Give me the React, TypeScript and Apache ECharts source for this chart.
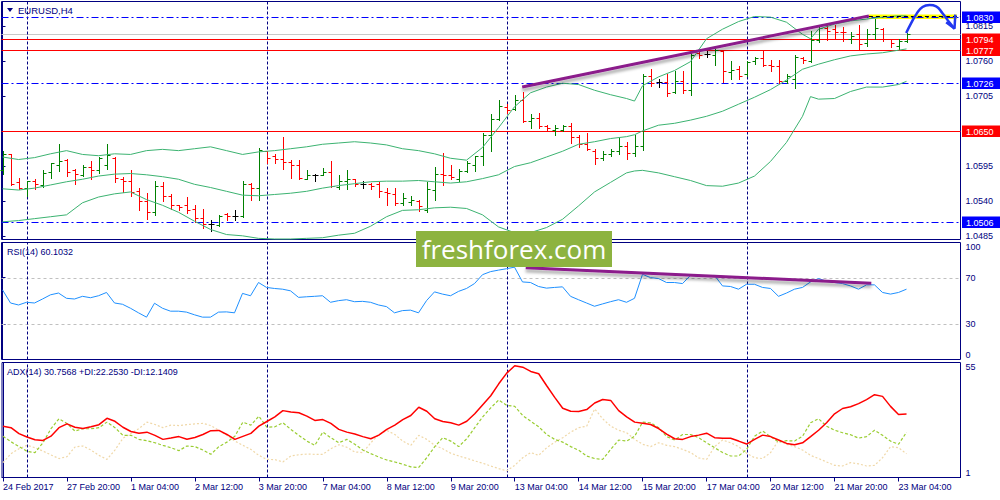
import { useEffect, useRef } from "react";
import * as echarts from "echarts";

// ---------- data (H4 bars, index 0 = 24 Feb 2017 12:00) ----------
const OPEN = [1.0589,1.0613,1.0569,1.0561,1.0572,1.0565,1.0585,1.0597,1.0604,1.0589,
1.0581,1.0594,1.0589,1.0596,1.0608,1.0574,1.0572,1.0555,1.0539,1.0523,
1.0563,1.0548,1.0533,1.0533,1.0527,1.0513,1.0504,1.0502,1.0519,1.0516,
1.0516,1.0567,1.0561,1.0618,1.0611,1.0606,1.0601,1.0596,1.0575,1.0581,
1.0581,1.0585,1.0562,1.0571,1.0574,1.0566,1.0566,1.0566,1.0554,1.0551,
1.0537,1.0538,1.0539,1.0526,1.0557,1.0583,1.0580,1.0574,1.0587,1.0597,
1.0611,1.0644,1.0669,1.0687,1.0685,1.0699,1.0665,1.0671,1.0657,1.0652,
1.0652,1.0657,1.0641,1.0629,1.0618,1.0608,1.0613,1.0618,1.0626,1.0615,
1.0626,1.0737,1.0727,1.0727,1.0712,1.0728,1.0714,1.0772,1.0771,1.0770,
1.0775,1.0742,1.0747,1.0739,1.0760,1.0765,1.0754,1.0752,1.0728,1.0731,
1.0765,1.0760,1.0793,1.0812,1.0810,1.0806,1.0795,1.0803,1.0789,1.0802,
1.0811,1.0794,1.0783,1.0791];
const HIGH = [1.0618,1.0614,1.0576,1.0572,1.0575,1.0588,1.0600,1.0630,1.0606,1.0590,
1.0596,1.0602,1.0609,1.0630,1.0609,1.0577,1.0588,1.0561,1.0553,1.0572,
1.0570,1.0550,1.0534,1.0546,1.0533,1.0527,1.0510,1.0517,1.0521,1.0526,
1.0572,1.0568,1.0623,1.0619,1.0613,1.0640,1.0605,1.0605,1.0589,1.0583,
1.0592,1.0602,1.0580,1.0588,1.0575,1.0572,1.0568,1.0569,1.0561,1.0561,
1.0553,1.0547,1.0542,1.0569,1.0594,1.0616,1.0596,1.0590,1.0602,1.0611,
1.0646,1.0677,1.0699,1.0693,1.0707,1.0712,1.0677,1.0678,1.0660,1.0659,
1.0660,1.0662,1.0643,1.0646,1.0622,1.0618,1.0621,1.0639,1.0632,1.0643,
1.0740,1.0747,1.0732,1.0740,1.0744,1.0744,1.0772,1.0777,1.0775,1.0779,
1.0777,1.0760,1.0752,1.0760,1.0767,1.0777,1.0762,1.0761,1.0739,1.0769,
1.0767,1.0807,1.0816,1.0816,1.0816,1.0814,1.0805,1.0817,1.0810,1.0826,
1.0812,1.0795,1.0795,1.0804];
const LOW = [1.0583,1.0565,1.0558,1.0547,1.0559,1.0562,1.0576,1.0587,1.0579,1.0567,
1.0579,1.0574,1.0584,1.0590,1.0569,1.0554,1.0548,1.0525,1.0512,1.0517,
1.0539,1.0527,1.0526,1.0521,1.0506,1.0498,1.0492,1.0500,1.0510,1.0510,
1.0515,1.0542,1.0541,1.0599,1.0600,1.0590,1.0576,1.0575,1.0574,1.0571,
1.0580,1.0562,1.0558,1.0559,1.0563,1.0561,1.0558,1.0546,1.0534,1.0534,
1.0534,1.0534,1.0524,1.0522,1.0541,1.0565,1.0574,1.0571,1.0585,1.0587,
1.0596,1.0618,1.0667,1.0678,1.0683,1.0664,1.0654,1.0655,1.0651,1.0644,
1.0650,1.0631,1.0625,1.0620,1.0598,1.0604,1.0610,1.0613,1.0606,1.0610,
1.0620,1.0721,1.0719,1.0705,1.0710,1.0710,1.0706,1.0765,1.0767,1.0753,
1.0727,1.0731,1.0732,1.0736,1.0756,1.0752,1.0744,1.0726,1.0725,1.0718,
1.0757,1.0758,1.0790,1.0793,1.0794,1.0791,1.0789,1.0777,1.0783,1.0795,
1.0791,1.0782,1.0779,1.0790];
const CLOSE = [1.0613,1.0566,1.0561,1.0572,1.0566,1.0584,1.0599,1.0603,1.0585,1.0583,
1.0594,1.0589,1.0607,1.0612,1.0576,1.0571,1.0554,1.0539,1.0523,1.0563,
1.0547,1.0534,1.0530,1.0526,1.0513,1.0503,1.0504,1.0516,1.0516,1.0516,
1.0567,1.0561,1.0620,1.0607,1.0606,1.0601,1.0596,1.0576,1.0581,1.0581,
1.0585,1.0563,1.0571,1.0574,1.0566,1.0566,1.0563,1.0555,1.0553,1.0537,
1.0545,1.0542,1.0532,1.0558,1.0583,1.0580,1.0578,1.0587,1.0600,1.0610,
1.0644,1.0669,1.0689,1.0683,1.0699,1.0665,1.0671,1.0657,1.0654,1.0654,
1.0657,1.0641,1.0629,1.0621,1.0608,1.0613,1.0618,1.0626,1.0616,1.0627,
1.0737,1.0725,1.0727,1.0709,1.0728,1.0714,1.0770,1.0770,1.0771,1.0777,
1.0744,1.0746,1.0737,1.0758,1.0765,1.0754,1.0752,1.0728,1.0736,1.0767,
1.0761,1.0793,1.0812,1.0807,1.0805,1.0805,1.0799,1.0786,1.0802,1.0812,
1.0794,1.0788,1.0791,1.0803];

const BB_INDEX = [0,2,4,6,8,10,12,14,16,18,20,22,24,26,28,30,32,34,36,38,40,42,44,46,48,50,52,54,56,58,60,62,64,66,68,70,72,74,76,78,79,80,82,84,86,88,90,92,94,96,98,100,101,102,104,106,108,110,112,113];
const BB_UPPER = [1.0609,1.0605,1.0608,1.0614,1.0619,1.0613,1.0611,1.0614,1.0613,1.0619,1.0621,1.0619,1.0622,1.0625,1.0619,1.0613,1.0617,1.0619,1.0622,1.0625,1.0629,1.0631,1.0633,1.0631,1.0628,1.0622,1.0619,1.0614,1.0607,1.0604,1.0624,1.0655,1.0688,1.0710,1.0719,1.0725,1.0723,1.0714,1.0707,1.0701,1.0697,1.0721,1.0735,1.0745,1.0759,1.0795,1.0810,1.0822,1.0830,1.0829,1.0821,1.0802,1.0795,1.0810,1.0818,1.0823,1.0826,1.0829,1.0831,1.0831];
const BB_MIDDLE = [1.0559,1.0557,1.0560,1.0565,1.0570,1.0574,1.0579,1.0582,1.0583,1.0581,1.0578,1.0574,1.0566,1.0561,1.0555,1.0549,1.0548,1.0550,1.0552,1.0555,1.0560,1.0564,1.0567,1.0570,1.0571,1.0571,1.0572,1.0570,1.0568,1.0570,1.0575,1.0581,1.0594,1.0600,1.0609,1.0618,1.0629,1.0633,1.0638,1.0641,1.0644,1.0650,1.0659,1.0662,1.0667,1.0673,1.0681,1.0692,1.0703,1.0715,1.0730,1.0747,1.0751,1.0755,1.0762,1.0768,1.0771,1.0773,1.0777,1.0779];
const BB_LOWER = [1.0507,1.0509,1.0512,1.0515,1.0518,1.0537,1.0546,1.0551,1.0554,1.0542,1.0533,1.0522,1.0508,1.0495,1.0487,1.0485,1.0481,1.0480,1.0480,1.0481,1.0482,1.0486,1.0489,1.0500,1.0515,1.0525,1.0526,1.0529,1.0530,1.0528,1.0518,1.0499,1.0490,1.0490,1.0498,1.0511,1.0532,1.0554,1.0569,1.0584,1.0587,1.0588,1.0584,1.0578,1.0572,1.0564,1.0563,1.0568,1.0579,1.0602,1.0632,1.0673,1.0704,1.0700,1.0701,1.0712,1.0719,1.0719,1.0723,1.0728];

const RSI = [59.5,48.3,46.6,48.9,48.3,51.7,55.3,56.8,52.3,51.7,
54,52.8,54.5,57.3,48.3,47.2,43.8,39.9,36.2,48.1,
43.8,41.3,41.3,40.5,38.2,36.2,36.2,40.5,40.7,39.9,
56.5,54.5,65.8,61.6,60.7,60.1,58.7,53.1,53.6,54,
54.5,48.9,50.3,51.1,49.4,49.7,48.9,46.6,45.2,39.9,
41.8,42.2,39.9,50.3,57.8,55.9,54.5,58.2,60.7,64.9,
72.5,75.1,76.4,77.6,78.9,66.3,65.8,62.4,61,61.6,
62.1,54,51.1,48.3,45.5,47.5,49.4,51.1,48.9,52.3,
72.8,70,69.2,65.8,65.8,64.9,71.9,71.4,71.4,71.9,
62.9,62.4,60.1,64.3,64.3,61.6,60.7,54,56.8,60.1,
61.6,66.3,69.2,66.9,65.8,64.9,62.9,60.1,63.8,63.8,
57.3,55.9,57.3,60.1];

const ADX = [25.1,24.4,21.6,20,18.7,18.4,20.4,24.4,26.2,24.6,
24,24.8,25.8,28.8,27.4,24.6,22.6,21.8,22.3,20.8,
18.9,19.5,20.2,19,19.8,21.2,23,23.1,21.2,18.9,
20.3,21.7,25.1,27.3,29.5,32.4,31.8,31.4,29.8,27.8,
28.2,26.4,23.6,22.3,21.4,20.2,19.2,20.9,23.6,25.6,
28.2,30.1,34,32.1,28.6,27.3,26.7,25.6,27.4,30.9,
35.2,39.4,45,50,53.5,52.8,50.8,49.7,44.1,38.6,
33.5,32.1,32,32.9,36,37.6,37.2,32.4,29.5,27,
26.5,25.9,24,21.4,19.2,18.9,20.2,20.9,21.8,19.7,
19.4,19.4,18.1,16.7,18.9,20.9,20.2,18.6,17,16.4,
17.3,20.2,23.2,26.7,30.9,33.4,34.2,35.7,37.6,39.9,
39.1,34.4,30.6,30.76];
const PLUS_DI = [20.4,17.8,15.5,13.3,12.7,17.3,23.9,28.6,26.4,22.8,
23.9,23.9,24.4,27,24.4,20.8,20.8,18.9,18.3,17.3,
16.1,15,13.6,15.8,15.5,13.9,11.9,15.5,17.6,20.4,
27,25.6,29.8,24.6,24.8,26.7,23.6,20.8,18.1,16.1,
22.3,19.7,17.3,18.9,16.6,13.9,12.2,10.6,9.2,8.3,
7.2,6,5.7,10.3,15.5,19.7,18.1,15.5,19.2,24.4,
29.5,33.7,37.4,34.9,34.4,30.1,27.4,24.8,21.2,18.9,
17.6,15.5,13.8,11.1,9.9,9.5,14.2,18.6,18.1,20.4,
27,26.7,24.4,20.2,18.6,21.2,21.2,19.7,17.3,15,
12.7,11.1,11.1,14.2,20.4,22.8,20.2,17.6,18.3,18.1,
20.4,26.7,28.6,25.1,23.2,22,21.1,19.5,20.2,23.2,
20.8,18.1,16.6,22.25];
const MINUS_DI = [8,12.2,14.5,16.1,15,13.4,11.6,9.9,10.8,15.3,
15.8,13.9,11.4,9.5,13.9,19.4,21.7,24,27,25.9,
24.4,25.6,25.4,25.8,26.2,26.4,25.4,23.1,20.8,18.1,
16.1,14.2,11.4,9.5,9.4,8.3,11.1,11.7,12,11.9,
11.9,14.5,16.4,15.2,13,12.7,17.3,21.2,23.1,21.2,
18.1,16.1,20.8,18.9,16.1,14.5,12.4,11.1,10,8.8,
7.7,6.4,5.2,4.1,6.7,10.3,12.7,11.4,15,17.6,
19.7,22.3,24.4,25.1,33.2,28.6,25.1,23.2,22,18.9,
16.6,15.5,17.3,16.1,15.5,14.2,12.7,10.2,9.5,15.5,
18.6,17.3,15.5,12.4,10.3,9.9,12.7,18.4,16.6,15.5,
13.9,11.4,9.9,8.3,6.7,6.4,8,7.4,6.4,6.7,
10.3,15.5,15,12.14];

const TIME_LABELS = ["24 Feb 2017","27 Feb 20:00","1 Mar 04:00","2 Mar 12:00","3 Mar 20:00","7 Mar 04:00","8 Mar 12:00","9 Mar 20:00","13 Mar 04:00","14 Mar 12:00","15 Mar 20:00","17 Mar 04:00","20 Mar 12:00","21 Mar 20:00","23 Mar 04:00"];
const TIME_LABEL_BARS = [0,8,16,24,32,40,48,56,64,72,80,88,96,104,112];
const WEEK_SEPARATORS = [3,33,63,93];
const PRICE_TICKS = [1.0485,1.0540,1.0595,1.0650,1.0705,1.0760,1.0815];
const PRICE_TICK_LABELS = [1.0485,1.0540,1.0595,1.0705,1.0760,1.0815];
const RSI_TICKS = [0,30,70,100];
const RSI_LEVELS = [30,70];
const ADX_TICKS = [1,55];
const BLUE_LEVELS = [1.0830,1.0726,1.0506];
const RED_LEVELS = [1.0794,1.0777,1.0650];
const ASK_PRICE = [1.0803];
const PRICE_TREND = [[64.96,1.0719],[108.3,1.0831]];
const RSI_TREND = [[65.4,78.4],[108.6,65.2]];
const TARGET_ZONE = [[108.3,1.0833],[119.3,1.0826]];
const TARGET_LINE = [[108.3,1.0830],[119.75,1.0830]];
const FORECAST_PATH = [[112.96,1.0804],[113.6,1.0820],[114.2,1.0833],[115.0,1.0845],[115.9,1.0848],[116.7,1.0846],[117.5,1.0835],[118.4,1.0820],[119.0,1.0811]];
const FORECAST_HEAD = [[117.96,1.0821],[119.0,1.0811],[119.1,1.0833]];
const TITLES = ["EURUSD,H4","RSI(14) 60.1032","ADX(14) 30.7568 +DI:22.2530 -DI:12.1409"];
const WATERMARK = "freshforex.com";

const NAVY = "#000080";
const FONT = "Liberation Sans";
const X_MIN = -0.125;
const X_MAX = 119.75;
const Y_RANGES = [[1.04792, 1.08536], [0, 100], [1, 55]];

export default function App() {
  const ref = useRef<HTMLDivElement>(null);
  useEffect(() => {
    if (!ref.current) return;
    const chart = echarts.init(ref.current, null, { renderer: "svg" });

    const ohlc = OPEN.map((o, i) => [i, o, HIGH[i], LOW[i], CLOSE[i]]);
    const bb = (arr: number[]) => BB_INDEX.map((x, k) => [x, arr[k]]);

    // crisp horizontal level lines (optionally with a price box on the axis)
    const hLines = (panel: number, values: number[], color: string, dash: number[] | null, boxColor?: string) => ({
      type: "custom",
      xAxisIndex: panel,
      yAxisIndex: panel,
      silent: true,
      clip: false,
      data: values.map((v) => [X_MIN, v]),
      encode: { x: 0, y: 1 },
      renderItem: (_p: any, api: any) => {
        const v = api.value(1);
        const a = api.coord([X_MIN, v]);
        const b = api.coord([X_MAX, v]);
        const y = Math.round(a[1]) + 0.5;
        const children: any[] = [
          {
            type: "line",
            shape: { x1: a[0], y1: y, x2: b[0], y2: y },
            style: { stroke: color, lineWidth: 1, lineDash: dash || undefined },
          },
        ];
        if (boxColor) {
          children.push(
            { type: "rect", shape: { x: Math.round(b[0]) + 1, y: y - 6, width: 42, height: 11.5 }, style: { fill: boxColor } },
            {
              type: "text",
              style: {
                text: Number(v).toFixed(4),
                x: Math.round(b[0]) + 5,
                y: y,
                fill: "#ffffff",
                font: `9px "${FONT}"`,
                verticalAlign: "middle",
                textVerticalAlign: "middle",
              },
            }
          );
        }
        return { type: "group", children };
      },
    });

    // crisp vertical week separators
    const vLines = (panel: number) => ({
      type: "custom",
      xAxisIndex: panel,
      yAxisIndex: panel,
      silent: true,
      data: WEEK_SEPARATORS.map((x) => [x, Y_RANGES[panel][0]]),
      encode: { x: 0, y: 1 },
      renderItem: (_p: any, api: any) => {
        const xv = api.value(0);
        const a = api.coord([xv, Y_RANGES[panel][0]]);
        const b = api.coord([xv, Y_RANGES[panel][1]]);
        const x = Math.round(a[0]) + 0.5;
        return {
          type: "line",
          shape: { x1: x, y1: a[1], x2: x, y2: b[1] },
          style: { stroke: NAVY, lineWidth: 1, lineDash: [3, 2] },
        };
      },
    });

    const xAxisBase = (gridIndex: number) => ({
      type: "value",
      gridIndex,
      min: X_MIN,
      max: X_MAX,
      axisLine: { show: false },
      axisTick: { show: false },
      axisLabel: { show: false },
      splitLine: { show: false },
    });

    const option: any = {
      animation: false,
      backgroundColor: "#ffffff",
      textStyle: { fontFamily: FONT },
      grid: [
        { left: 1.5, top: 1.5, width: 959, height: 238, show: true, borderColor: NAVY, borderWidth: 1 },
        { left: 1.5, top: 242.5, width: 959, height: 117, show: true, borderColor: NAVY, borderWidth: 1 },
        { left: 1.5, top: 362.5, width: 959, height: 115, show: true, borderColor: NAVY, borderWidth: 1 },
      ],
      xAxis: [
        xAxisBase(0),
        xAxisBase(1),
        {
          ...xAxisBase(2),
          axisLine: { show: true, lineStyle: { color: NAVY } },
          axisTick: { show: true, customValues: TIME_LABEL_BARS, length: 4, lineStyle: { color: NAVY } },
          axisLabel: {
            show: true,
            customValues: TIME_LABEL_BARS,
            formatter: (v: number) => TIME_LABELS[TIME_LABEL_BARS.indexOf(Math.round(v))] ?? "",
            align: "left",
            margin: 5,
            color: NAVY,
            fontSize: 9,
            fontFamily: FONT,
          },
        },
      ],
      yAxis: [
        {
          type: "value",
          gridIndex: 0,
          position: "right",
          min: Y_RANGES[0][0],
          max: Y_RANGES[0][1],
          axisLine: { show: true, lineStyle: { color: NAVY } },
          axisTick: { show: true, customValues: PRICE_TICKS, length: 3, lineStyle: { color: NAVY } },
          axisLabel: {
            customValues: PRICE_TICK_LABELS,
            formatter: (v: number) => v.toFixed(4),
            color: NAVY,
            fontSize: 9,
            margin: 5,
            fontFamily: FONT,
          },
          splitLine: { show: false },
        },
        {
          type: "value",
          gridIndex: 1,
          position: "right",
          min: Y_RANGES[1][0],
          max: Y_RANGES[1][1],
          axisLine: { show: true, lineStyle: { color: NAVY } },
          axisTick: { show: true, customValues: RSI_TICKS, length: 3, lineStyle: { color: NAVY } },
          axisLabel: {
            customValues: RSI_TICKS,
            color: NAVY,
            fontSize: 9,
            margin: 5,
            fontFamily: FONT,
            verticalAlignMaxLabel: "top",
            verticalAlignMinLabel: "bottom",
          },
          splitLine: { show: false },
        },
        {
          type: "value",
          gridIndex: 2,
          position: "right",
          min: Y_RANGES[2][0],
          max: Y_RANGES[2][1],
          axisLine: { show: true, lineStyle: { color: NAVY } },
          axisTick: { show: true, customValues: ADX_TICKS, length: 3, lineStyle: { color: NAVY } },
          axisLabel: {
            customValues: ADX_TICKS,
            color: NAVY,
            fontSize: 9,
            margin: 5,
            fontFamily: FONT,
            verticalAlignMaxLabel: "top",
            verticalAlignMinLabel: "bottom",
          },
          splitLine: { show: false },
        },
      ],
      series: [
        // target zone
        {
          type: "line",
          xAxisIndex: 0,
          yAxisIndex: 0,
          data: [],
          markArea: {
            silent: true,
            itemStyle: { color: "#FFFF00" },
            data: [[{ coord: TARGET_ZONE[0] }, { coord: TARGET_ZONE[1] }]],
          },
        },
        hLines(0, ASK_PRICE, "#C8C8C8", null),
        vLines(0),
        // bollinger bands
        ...[BB_UPPER, BB_MIDDLE, BB_LOWER].map((arr) => ({
          type: "line",
          xAxisIndex: 0,
          yAxisIndex: 0,
          data: bb(arr),
          showSymbol: false,
          symbol: "none",
          lineStyle: { color: "#3CB371", width: 1 },
        })),
        hLines(0, RED_LEVELS, "#FF0000", null, "#FF0000"),
        hLines(0, BLUE_LEVELS, "#0000FF", [7, 3, 2, 3], "#0000FF"),
        // OHLC bars
        {
          type: "custom",
          xAxisIndex: 0,
          yAxisIndex: 0,
          data: ohlc,
          encode: { x: 0, y: [1, 2, 3, 4] },
          renderItem: (_params: any, api: any) => {
            const i = api.value(0);
            const o = api.value(1);
            const h = api.value(2);
            const l = api.value(3);
            const c = api.value(4);
            const pH = api.coord([i, h]);
            const pL = api.coord([i, l]);
            const pO = api.coord([i, o]);
            const pC = api.coord([i, c]);
            const color = c > o ? "#008000" : c < o ? "#FF0000" : "#000000";
            const x = Math.round(pH[0]) + 0.5;
            const yo = Math.round(pO[1]) + 0.5;
            const yc = Math.round(pC[1]) + 0.5;
            const st = { stroke: color, lineWidth: 1 };
            return {
              type: "group",
              children: [
                { type: "line", shape: { x1: x, y1: Math.round(pH[1]), x2: x, y2: Math.round(pL[1]) + 1 }, style: st },
                { type: "line", shape: { x1: x - 3, y1: yo, x2: x, y2: yo }, style: st },
                { type: "line", shape: { x1: x, y1: yc, x2: x + 3, y2: yc }, style: st },
              ],
            };
          },
        },
        // black dashed at target
        {
          type: "line",
          xAxisIndex: 0,
          yAxisIndex: 0,
          data: TARGET_LINE,
          symbol: "none",
          lineStyle: { color: "#000000", type: [4, 3], width: 1 },
        },
        // price trend line
        {
          type: "line",
          xAxisIndex: 0,
          yAxisIndex: 0,
          data: PRICE_TREND,
          symbol: "none",
          lineStyle: {
            color: "#8B1A8B",
            width: 3,
            shadowColor: "rgba(0,0,0,0.35)",
            shadowBlur: 3,
            shadowOffsetY: 3,
          },
        },
        // forecast arrow
        {
          type: "line",
          xAxisIndex: 0,
          yAxisIndex: 0,
          data: FORECAST_PATH,
          smooth: 0.5,
          symbol: "none",
          lineStyle: { color: "#2238F0", width: 2.5 },
        },
        {
          type: "line",
          xAxisIndex: 0,
          yAxisIndex: 0,
          data: FORECAST_HEAD,
          symbol: "none",
          lineStyle: { color: "#2238F0", width: 2.5 },
        },
        // RSI panel
        hLines(1, RSI_LEVELS, "#C0C0C0", [3, 3]),
        vLines(1),
        {
          type: "line",
          xAxisIndex: 1,
          yAxisIndex: 1,
          data: RSI.map((v, i) => [i, v]),
          symbol: "none",
          lineStyle: { color: "#1E90FF", width: 1 },
        },
        {
          type: "line",
          xAxisIndex: 1,
          yAxisIndex: 1,
          data: RSI_TREND,
          symbol: "none",
          lineStyle: {
            color: "#8B1A8B",
            width: 3,
            shadowColor: "rgba(0,0,0,0.35)",
            shadowBlur: 3,
            shadowOffsetY: 3,
          },
        },
        // ADX panel
        vLines(2),
        {
          type: "line",
          xAxisIndex: 2,
          yAxisIndex: 2,
          data: MINUS_DI.map((v, i) => [i, v]),
          symbol: "none",
          lineStyle: { color: "#F0D8A8", width: 1.2, type: [2, 2] },
        },
        {
          type: "line",
          xAxisIndex: 2,
          yAxisIndex: 2,
          data: PLUS_DI.map((v, i) => [i, v]),
          symbol: "none",
          lineStyle: { color: "#9ACD32", width: 1.2, type: [3, 2] },
        },
        {
          type: "line",
          xAxisIndex: 2,
          yAxisIndex: 2,
          data: ADX.map((v, i) => [i, v]),
          symbol: "none",
          lineStyle: { color: "#FF0000", width: 1.5 },
        },
      ],
      graphic: [
        {
          type: "polygon",
          shape: { points: [[7, 8], [13, 8], [10, 12]] },
          style: { fill: NAVY },
          z: 50,
        },
        {
          type: "text",
          x: 18,
          y: 10,
          z: 50,
          style: { text: TITLES[0], fill: NAVY, font: `9.5px "${FONT}"`, verticalAlign: "middle", textVerticalAlign: "middle" },
        },
        {
          type: "text",
          x: 7,
          y: 251.5,
          z: 50,
          style: { text: TITLES[1], fill: NAVY, font: `9px "${FONT}"`, verticalAlign: "middle", textVerticalAlign: "middle" },
        },
        {
          type: "text",
          x: 7,
          y: 371.5,
          z: 50,
          style: { text: TITLES[2], fill: NAVY, font: `9px "${FONT}"`, verticalAlign: "middle", textVerticalAlign: "middle" },
        },
        {
          type: "rect",
          shape: { x: 416, y: 231, width: 196, height: 36 },
          style: { fill: "#8DB340" },
          z: 100,
        },
        {
          type: "text",
          x: 514,
          y: 249,
          z: 101,
          style: {
            text: WATERMARK,
            fill: "#ffffff",
            font: `26px "Open Sans"`,
            align: "center",
            verticalAlign: "middle",
            textAlign: "center",
            textVerticalAlign: "middle",
          },
        },
      ],
    };

    chart.setOption(option);
    return () => chart.dispose();
  }, []);

  return (
    <div
      ref={ref}
      style={{ position: "absolute", left: 0, top: 0, width: 1000, height: 500, background: "#ffffff" }}
    />
  );
}
